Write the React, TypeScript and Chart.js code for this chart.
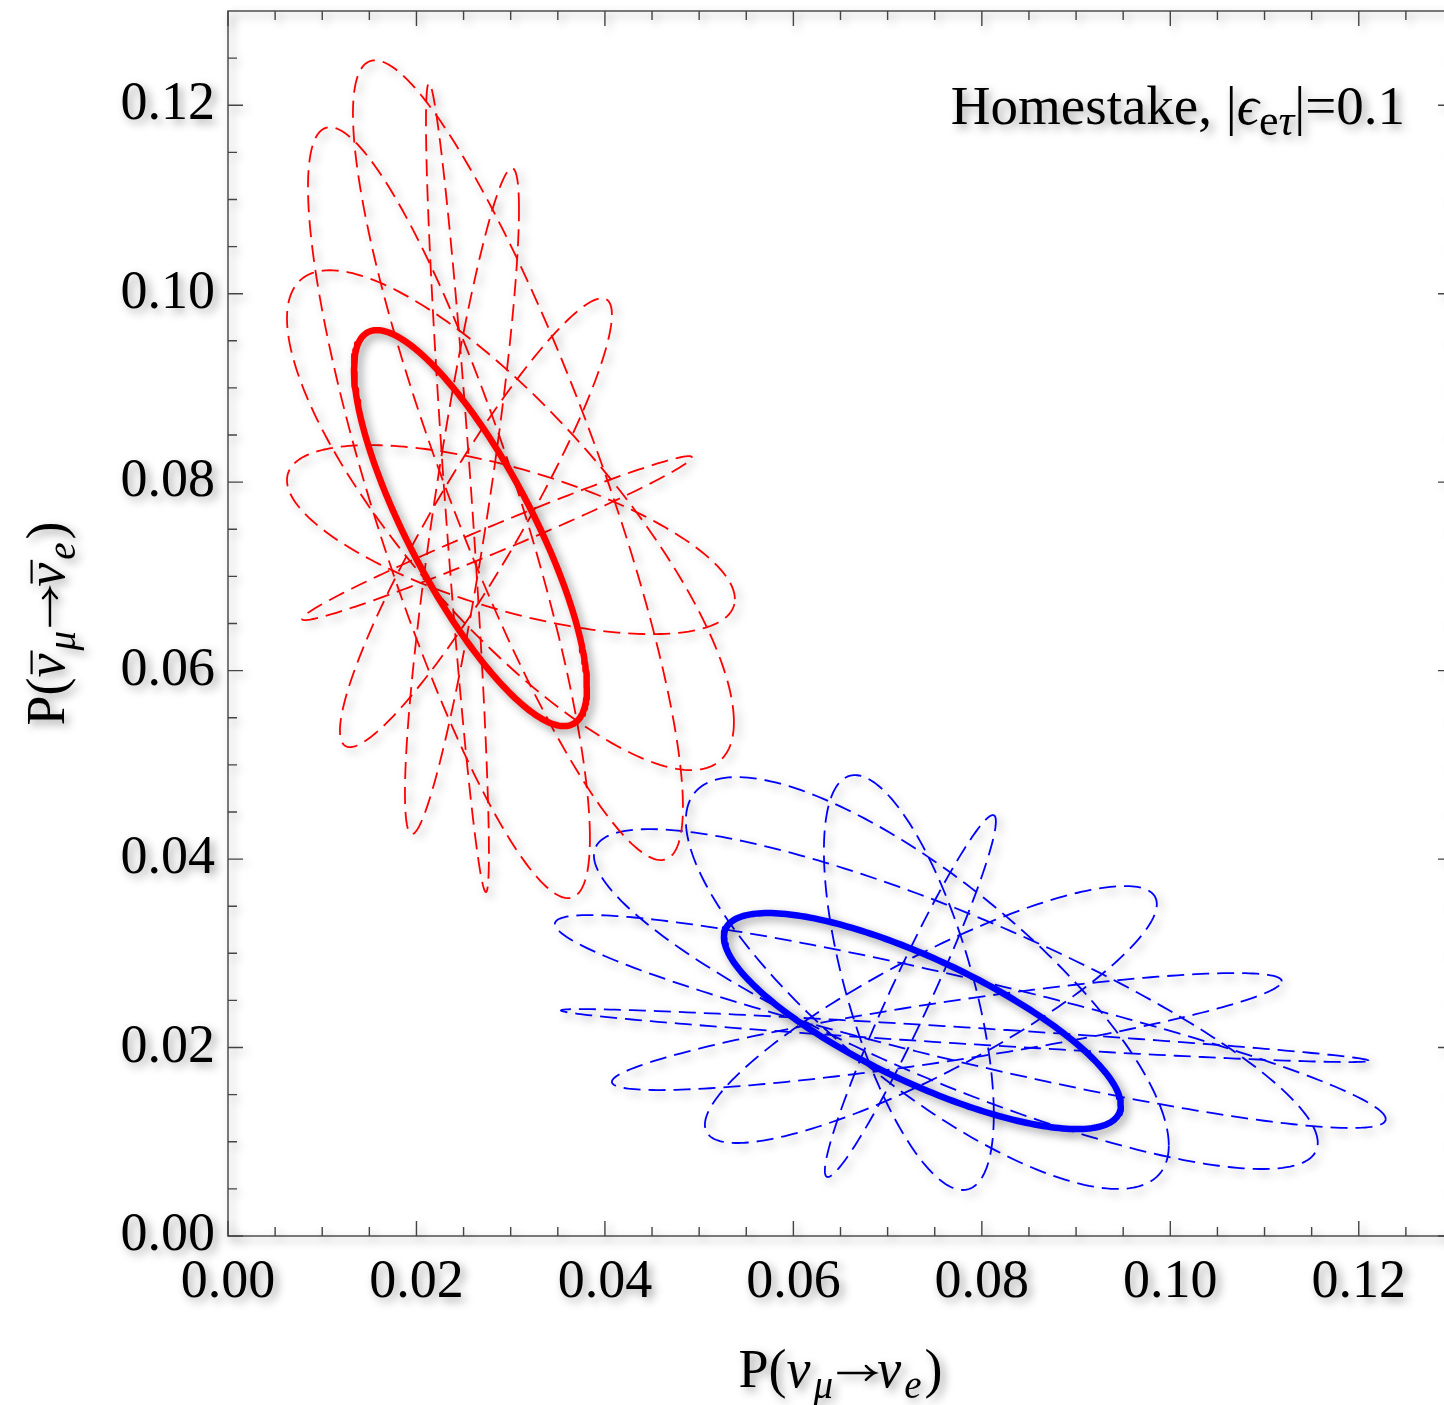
import { useEffect, useRef } from "react";
import { Chart, registerables } from "chart.js";

Chart.register(...registerables);

// ---- axes ----
const AXIS_MIN = 0;
const AXIS_MAX = 0.13;
const MAJOR_TICKS = [0, 0.02, 0.04, 0.06, 0.08, 0.1, 0.12];
const MINOR_TICKS = [
  0.005, 0.01, 0.015, 0.025, 0.03, 0.035, 0.045, 0.05, 0.055, 0.065, 0.07,
  0.075, 0.085, 0.09, 0.095, 0.105, 0.11, 0.115, 0.125,
];

// ---- ellipse extents (x = P(nu), y = P(anti-nu)) ----
// standard (no NSI) curves: [xMin, xMax, yMin, yMax, x at the top point]
const RED_SOLID = [0.01337, 0.03809, 0.05411, 0.09613, 0.01581];
const BLUE_SOLID = [0.05263, 0.09475, 0.01135, 0.03427, 0.05729];

// NSI curves (dashed), one entry per NSI phase
const RED_DASHED_X_MIN = [0.01326, 0.02101, 0.01878, 0.00626, 0.00785, 0.00626, 0.00849, 0.01188];
const RED_DASHED_X_MAX = [0.04828, 0.02769, 0.03088, 0.05369, 0.04923, 0.05379, 0.03841, 0.04074];
const RED_DASHED_Y_MIN = [0.03989, 0.0365, 0.04265, 0.04944, 0.06536, 0.06387, 0.03586, 0.05188];
const RED_DASHED_Y_MAX = [0.12477, 0.12233, 0.11332, 0.10249, 0.08276, 0.08393, 0.11767, 0.09952];
const RED_DASHED_X_AT_TOP = [0.0156, 0.02133, 0.03013, 0.01082, 0.04891, 0.01507, 0.01082, 0.03968];

const BLUE_DASHED_X_MIN = [0.03533, 0.04074, 0.03469, 0.03883, 0.04859, 0.06324, 0.06334, 0.05061];
const BLUE_DASHED_X_MAX = [0.12106, 0.11183, 0.12286, 0.11565, 0.09984, 0.08127, 0.08149, 0.09857];
const BLUE_DASHED_Y_MIN = [0.01846, 0.01549, 0.01146, 0.00711, 0.00499, 0.00488, 0.00626, 0.00987];
const BLUE_DASHED_Y_MAX = [0.02408, 0.0279, 0.03406, 0.04318, 0.0487, 0.04891, 0.04467, 0.03714];
const BLUE_DASHED_X_AT_TOP = [0.03745, 0.10684, 0.03841, 0.04477, 0.05401, 0.06653, 0.08117, 0.09517];

const ANNOTATION = "Homestake";

const FONT = '"Liberation Serif", "DejaVu Serif", "Times New Roman", serif';
const FONT_SIZE = 54;

// closed curve through the measured extents
function ellipse(xMin: number, xMax: number, yMin: number, yMax: number, xTop: number, n: number) {
  const cx = (xMin + xMax) / 2;
  const ax = (xMax - xMin) / 2;
  const cy = (yMin + yMax) / 2;
  const ay = (yMax - yMin) / 2;
  const c = Math.max(-1, Math.min(1, (xTop - cx) / ax));
  const phi = Math.acos(c);
  const pts: { x: number; y: number }[] = [];
  for (let i = 0; i <= n; i++) {
    const t = (2 * Math.PI * i) / n;
    pts.push({ x: cx + ax * Math.cos(t), y: cy + ay * Math.cos(t - phi) });
  }
  return pts;
}

type Seg = { t: string; italic?: boolean; sub?: boolean; bar?: boolean; arrow?: boolean; subScale?: number; gap?: number };

function segFont(s: Seg, size: number) {
  const sz = s.sub ? Math.round(size * (s.subScale || 0.72)) : size;
  return `${s.italic ? "italic " : ""}${sz}px ${FONT}`;
}

function drawRich(ctx: CanvasRenderingContext2D, segs: Seg[], x: number, y: number, size: number, align: "center" | "right") {
  const widths = segs.map((s) => {
    if (s.arrow) return size * 0.78;
    ctx.font = segFont(s, size);
    return ctx.measureText(s.t).width + (s.gap || 0);
  });
  const total = widths.reduce((a, b) => a + b, 0);
  let cx = align === "center" ? x - total / 2 : x - total;
  ctx.textAlign = "left";
  ctx.textBaseline = "alphabetic";
  segs.forEach((s, i) => {
    if (s.arrow) {
      const w = widths[i];
      const ay = y - size * 0.26;
      const x0 = cx + size * 0.04;
      const x1 = cx + w - size * 0.04;
      ctx.beginPath();
      ctx.lineWidth = size * 0.045;
      ctx.strokeStyle = "#000";
      ctx.moveTo(x0, ay);
      ctx.lineTo(x1 - 2, ay);
      ctx.stroke();
      ctx.beginPath();
      ctx.lineCap = "round";
      ctx.moveTo(x1 - size * 0.17, ay - size * 0.13);
      ctx.quadraticCurveTo(x1 - size * 0.06, ay - size * 0.02, x1, ay);
      ctx.quadraticCurveTo(x1 - size * 0.06, ay + size * 0.02, x1 - size * 0.17, ay + size * 0.13);
      ctx.stroke();
      ctx.lineCap = "butt";
      cx += w;
      return;
    }
    ctx.font = segFont(s, size);
    const dy = s.sub ? size * 0.2 : 0;
    ctx.fillText(s.t, cx, y + dy);
    if (s.bar) {
      ctx.beginPath();
      ctx.lineWidth = size * 0.04;
      ctx.strokeStyle = "#000";
      const by = y - size * 0.6;
      ctx.moveTo(cx + widths[i] * 0.12, by);
      ctx.lineTo(cx + widths[i] * 1.0, by);
      ctx.stroke();
    }
    cx += widths[i];
  });
}

const X_TITLE: Seg[] = [
  { t: "P(" },
  { t: "ν", italic: true, gap: 3 },
  { t: "μ", italic: true, sub: true, gap: 2 },
  { t: "→", arrow: true },
  { t: "ν", italic: true, gap: 3 },
  { t: "e", italic: true, sub: true, gap: 3 },
  { t: ")" },
];
const Y_TITLE: Seg[] = [
  { t: "P(" },
  { t: "ν", italic: true, bar: true, gap: 3 },
  { t: "μ", italic: true, sub: true, gap: 2 },
  { t: "→", arrow: true },
  { t: "ν", italic: true, bar: true, gap: 3 },
  { t: "e", italic: true, sub: true, gap: 3 },
  { t: ")" },
];
const NOTE: Seg[] = [
  { t: ANNOTATION + ", |" },
  { t: "ϵ", italic: true },
  { t: "e", sub: true, subScale: 0.8 },
  { t: "τ", italic: true, sub: true, subScale: 0.8 },
  { t: "|=0.1" },
];

const framePlugin = {
  id: "frameAndText",
  beforeDraw(chart: any) {
    const ctx = chart.ctx as CanvasRenderingContext2D;
    ctx.save();
    ctx.fillStyle = "#fff";
    ctx.fillRect(0, 0, chart.width, chart.height);
    ctx.restore();
    ctx.save();
    ctx.shadowColor = "rgba(0,0,0,0.38)";
    ctx.shadowBlur = 10;
    ctx.shadowOffsetX = 4;
    ctx.shadowOffsetY = 4;
  },
  afterDraw(chart: any) {
    const ctx = chart.ctx as CanvasRenderingContext2D;
    const { left, right, top, bottom } = chart.chartArea;
    const xs = chart.scales.x;
    const ys = chart.scales.y;
    ctx.lineWidth = 1.4;
    ctx.strokeStyle = "#444";
    ctx.setLineDash([]);
    ctx.strokeRect(left, top, right - left, bottom - top);
    const tick = (v: number, len: number) => {
      const px = xs.getPixelForValue(v);
      const py = ys.getPixelForValue(v);
      ctx.beginPath();
      ctx.moveTo(px, bottom);
      ctx.lineTo(px, bottom - len);
      ctx.moveTo(px, top);
      ctx.lineTo(px, top + len);
      ctx.moveTo(left, py);
      ctx.lineTo(left + len, py);
      ctx.moveTo(right, py);
      ctx.lineTo(right - len, py);
      ctx.stroke();
    };
    MAJOR_TICKS.forEach((v) => tick(v, 15));
    MINOR_TICKS.forEach((v) => tick(v, 9));

    ctx.fillStyle = "#000";
    drawRich(ctx, X_TITLE, (left + right) / 2, 1387, FONT_SIZE, "center");
    ctx.save();
    ctx.translate(64, (top + bottom) / 2);
    ctx.rotate(-Math.PI / 2);
    drawRich(ctx, Y_TITLE, 0, 0, FONT_SIZE, "center");
    ctx.restore();
    drawRich(ctx, NOTE, 1405, 124, 55, "right");
    ctx.restore();
  },
};

export default function App() {
  const ref = useRef<HTMLCanvasElement | null>(null);
  useEffect(() => {
    if (!ref.current) return;
    const datasets: any[] = [];
    datasets.push({
      data: ellipse(RED_SOLID[0], RED_SOLID[1], RED_SOLID[2], RED_SOLID[3], RED_SOLID[4], 240),
      borderColor: "#ff0000",
      borderWidth: 6.5,
    });
    datasets.push({
      data: ellipse(BLUE_SOLID[0], BLUE_SOLID[1], BLUE_SOLID[2], BLUE_SOLID[3], BLUE_SOLID[4], 240),
      borderColor: "#0000ff",
      borderWidth: 6.5,
    });
    RED_DASHED_X_MIN.forEach((_, i) => {
      datasets.push({
        data: ellipse(RED_DASHED_X_MIN[i], RED_DASHED_X_MAX[i], RED_DASHED_Y_MIN[i], RED_DASHED_Y_MAX[i], RED_DASHED_X_AT_TOP[i], 240),
        borderColor: "#ff0000",
        borderWidth: 1.8,
        borderDash: [17, 8],
      });
    });
    BLUE_DASHED_X_MIN.forEach((_, i) => {
      datasets.push({
        data: ellipse(BLUE_DASHED_X_MIN[i], BLUE_DASHED_X_MAX[i], BLUE_DASHED_Y_MIN[i], BLUE_DASHED_Y_MAX[i], BLUE_DASHED_X_AT_TOP[i], 240),
        borderColor: "#0000ff",
        borderWidth: 1.8,
        borderDash: [17, 8],
      });
    });
    datasets.forEach((d) => {
      d.pointRadius = 0;
      d.fill = false;
      d.tension = 0;
      d.borderJoinStyle = "round";
    });

    const zeroPad = (s: any) => {
      s.paddingTop = 0;
      s.paddingBottom = 0;
      s.paddingLeft = 0;
      s.paddingRight = 0;
    };

    const tickFont = { family: FONT, size: FONT_SIZE };
    const chart = new Chart(ref.current, {
      type: "line",
      data: { datasets },
      options: {
        animation: false,
        responsive: false,
        devicePixelRatio: 1,
        layout: { padding: { left: 0, top: 11, right: 17, bottom: 0 } },
        plugins: { legend: { display: false }, tooltip: { enabled: false } },
        scales: {
          x: {
            type: "linear",
            min: AXIS_MIN,
            max: AXIS_MAX,
            grid: { display: false, drawTicks: false },
            border: { display: false },
            ticks: {
              font: tickFont,
              color: "#000",
              padding: 14,
              autoSkip: false,
              maxRotation: 0,
              callback: (v: any) => Number(v).toFixed(2),
            },
            afterBuildTicks: (s: any) => {
              s.ticks = MAJOR_TICKS.map((v) => ({ value: v }));
            },
            afterFit: (s: any) => {
              s.height = 169;
              zeroPad(s);
            },
          },
          y: {
            type: "linear",
            min: AXIS_MIN,
            max: AXIS_MAX,
            grid: { display: false, drawTicks: false },
            border: { display: false },
            ticks: {
              font: tickFont,
              color: "#000",
              padding: 13,
              autoSkip: false,
              callback: (v: any) => Number(v).toFixed(2),
            },
            afterBuildTicks: (s: any) => {
              s.ticks = MAJOR_TICKS.map((v) => ({ value: v }));
            },
            afterFit: (s: any) => {
              s.width = 228;
              zeroPad(s);
            },
          },
        },
      },
      plugins: [framePlugin],
    } as any);
    return () => chart.destroy();
  }, []);
  return (
    <div style={{ position: "fixed", left: 0, top: 0, width: 1444, height: 1405, overflow: "hidden", background: "#fff" }}>
      <canvas ref={ref} width={1470} height={1405} style={{ display: "block", width: 1470, height: 1405 }} />
    </div>
  );
}
